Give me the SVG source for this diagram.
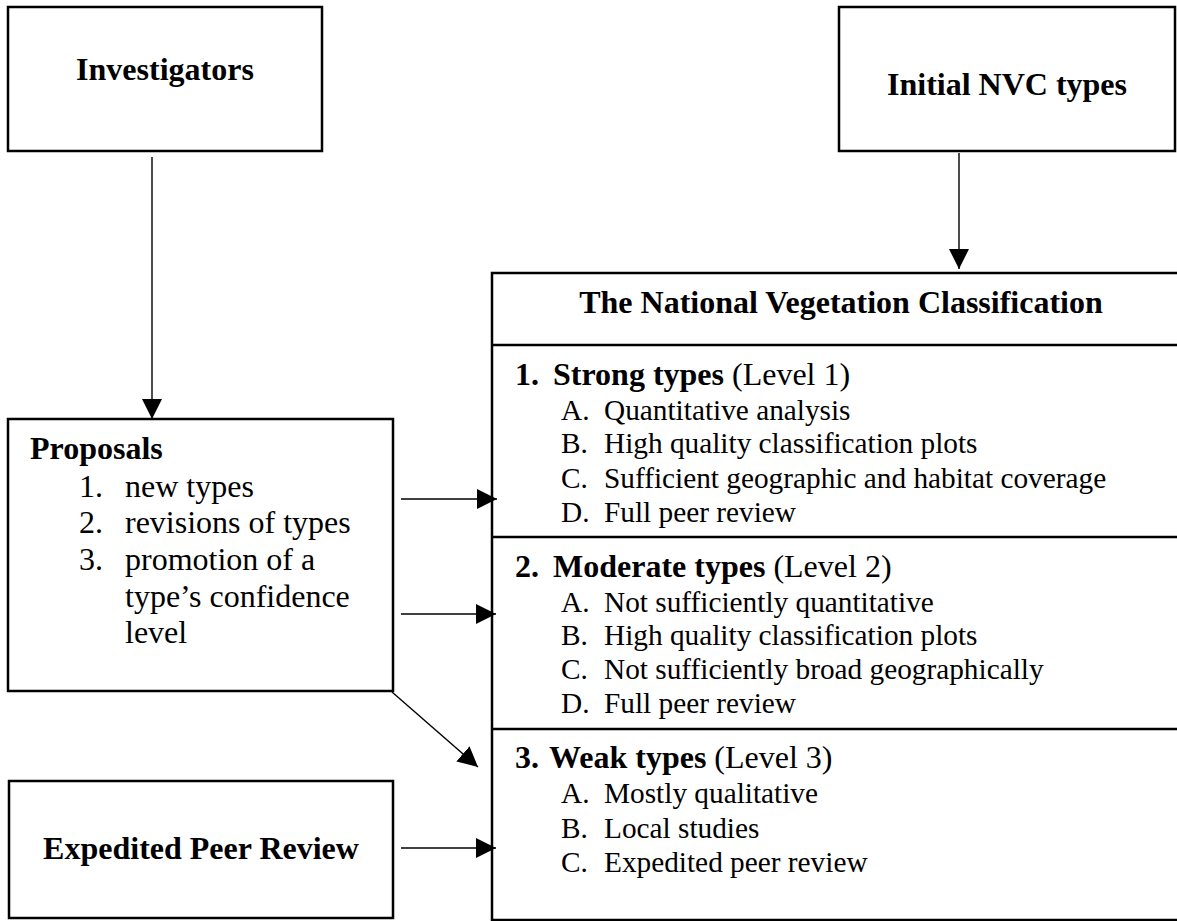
<svg xmlns="http://www.w3.org/2000/svg" width="1177" height="921" viewBox="0 0 1177 921">
<style>
.box{fill:#fff;stroke:#000;stroke-width:2.5}
.div{stroke:#000;stroke-width:2.5}
.con{stroke:#000;stroke-width:1.4;fill:none}
text{font-family:"Liberation Serif","Times New Roman",serif;fill:#000}
.h{font-size:32px;font-weight:bold}
.p{font-size:32px}
.i{font-size:29.3px}
.b{font-weight:bold}
.n{font-weight:normal}
</style>
<defs>
<marker id="ah" viewBox="0 0 20 20" refX="20" refY="10" markerWidth="20" markerHeight="20" markerUnits="userSpaceOnUse" orient="auto">
<path d="M0,0 L20,10 L0,20 Z" fill="#000"/>
</marker>
</defs>
<rect width="1177" height="921" fill="#fff"/>
<g id="investigators">
<rect class="box" x="8" y="7" width="314" height="144"/>
<text class="h" x="165" y="80" text-anchor="middle">Investigators</text>
</g>
<g id="initial-nvc-types">
<rect class="box" x="839" y="7" width="336" height="144"/>
<text class="h" x="1007" y="95" text-anchor="middle">Initial NVC types</text>
</g>
<g id="proposals">
<rect class="box" x="8" y="419" width="385" height="272"/>
<text class="h" x="30" y="459">Proposals</text>
<text class="p" x="79" y="497">1.</text><text class="p" x="125" y="497">new types</text>
<text class="p" x="79" y="533">2.</text><text class="p" x="125" y="533">revisions of types</text>
<text class="p" x="79" y="570">3.</text><text class="p" x="125" y="570">promotion of a</text>
<text class="p" x="125" y="607">type’s confidence</text>
<text class="p" x="125" y="643">level</text>
</g>
<g id="expedited-peer-review">
<rect class="box" x="9" y="781" width="384" height="137"/>
<text class="h" x="201" y="859" text-anchor="middle">Expedited Peer Review</text>
</g>
<g id="nvc">
<rect class="box" x="492" y="273" width="690" height="647"/>
<line class="div" x1="492" y1="345" x2="1177" y2="345"/>
<line class="div" x1="492" y1="537" x2="1177" y2="537"/>
<line class="div" x1="492" y1="729" x2="1177" y2="729"/>
<text class="h" x="841" y="313" text-anchor="middle">The National Vegetation Classification</text>
<text class="h" x="515" y="385">1.</text>
<text class="p" x="553" y="385"><tspan class="b">Strong types</tspan> (Level 1)</text>
<text class="i" x="561" y="420">A.</text><text class="i" x="604" y="420">Quantitative analysis</text>
<text class="i" x="561" y="453">B.</text><text class="i" x="604" y="453">High quality classification plots</text>
<text class="i" x="561" y="488">C.</text><text class="i" x="604" y="488">Sufficient geographic and habitat coverage</text>
<text class="i" x="561" y="522">D.</text><text class="i" x="604" y="522">Full peer review</text>
<text class="h" x="515" y="577">2.</text>
<text class="p" x="553" y="577"><tspan class="b">Moderate types</tspan> (Level 2)</text>
<text class="i" x="561" y="612">A.</text><text class="i" x="604" y="612">Not sufficiently quantitative</text>
<text class="i" x="561" y="645">B.</text><text class="i" x="604" y="645">High quality classification plots</text>
<text class="i" x="561" y="679">C.</text><text class="i" x="604" y="679">Not sufficiently broad geographically</text>
<text class="i" x="561" y="713">D.</text><text class="i" x="604" y="713">Full peer review</text>
<text class="h" x="515" y="768">3.</text>
<text class="p" x="549" y="768"><tspan class="b">Weak types</tspan> (Level 3)</text>
<text class="i" x="561" y="803">A.</text><text class="i" x="604" y="803">Mostly qualitative</text>
<text class="i" x="561" y="838">B.</text><text class="i" x="604" y="838">Local studies</text>
<text class="i" x="561" y="872">C.</text><text class="i" x="604" y="872">Expedited peer review</text>
</g>
<g id="connectors">
<line class="con" x1="152" y1="157" x2="152" y2="419" marker-end="url(#ah)"/>
<line class="con" x1="959" y1="153" x2="959" y2="269" marker-end="url(#ah)"/>
<line class="con" x1="401" y1="499" x2="497" y2="499" marker-end="url(#ah)"/>
<line class="con" x1="401" y1="614" x2="496" y2="614" marker-end="url(#ah)"/>
<line class="con" x1="392" y1="692" x2="478" y2="767" marker-end="url(#ah)"/>
<line class="con" x1="401" y1="848" x2="496" y2="848" marker-end="url(#ah)"/>
</g>
</svg>
